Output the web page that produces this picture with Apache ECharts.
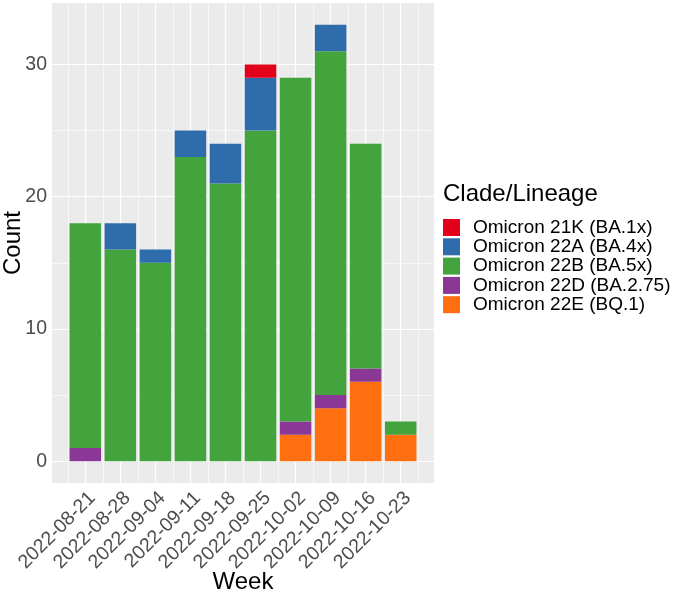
<!DOCTYPE html>
<html>
<head>
<meta charset="utf-8">
<script src="https://cdn.jsdelivr.net/npm/echarts@6/dist/echarts.min.js"></script>
<style>
html,body{margin:0;padding:0;background:#fff;}
#chart{width:680px;height:596px;}
</style>
</head>
<body>
<div id="chart"></div>
<script>
var weeks = ['2022-08-21','2022-08-28','2022-09-04','2022-09-11','2022-09-18','2022-09-25','2022-10-02','2022-10-09','2022-10-16','2022-10-23'];
var o21K = [0,0,0,0,0,1,0,0,0,0];
var o22A = [0,2,1,2,3,4,0,2,0,0];
var o22B = [17,16,15,23,21,25,26,26,17,1];
var o22D = [1,0,0,0,0,0,1,1,1,0];
var o22E = [0,0,0,0,0,0,2,4,6,2];
var yTicks = [0,10,20,30];
var yMinor = [5,15,25];
var legendNames = ['Omicron 21K (BA.1x)','Omicron 22A (BA.4x)','Omicron 22B (BA.5x)','Omicron 22D (BA.2.75)','Omicron 22E (BQ.1)'];

var colors = {
  'Omicron 21K (BA.1x)':'#E2001A',
  'Omicron 22A (BA.4x)':'#2F6CAC',
  'Omicron 22B (BA.5x)':'#43A43D',
  'Omicron 22D (BA.2.75)':'#8A3795',
  'Omicron 22E (BQ.1)':'#FF6F0F'
};
var seriesVals = {
  'Omicron 22E (BQ.1)':o22E,
  'Omicron 22D (BA.2.75)':o22D,
  'Omicron 22B (BA.5x)':o22B,
  'Omicron 22A (BA.4x)':o22A,
  'Omicron 21K (BA.1x)':o21K
};
var stackOrder = ['Omicron 22E (BQ.1)','Omicron 22D (BA.2.75)','Omicron 22B (BA.5x)','Omicron 22A (BA.4x)','Omicron 21K (BA.1x)'];
var idx = weeks.map(function(w,i){return i;});
var FONT = 'Liberation Sans, Arial, sans-serif';

var gridLines = [];
yTicks.forEach(function(v){gridLines.push({yAxis:v,lineStyle:{width:1.2}});});
yMinor.forEach(function(v){gridLines.push({yAxis:v,lineStyle:{width:0.6}});});
idx.forEach(function(i){gridLines.push({xAxis:i,lineStyle:{width:1.2}});});
idx.concat([10]).forEach(function(i){gridLines.push({xAxis:i-0.5,lineStyle:{width:0.6}});});

var series = [{
  type:'line', name:'grid', data:[[0,0]], showSymbol:false, silent:true, z:1,
  lineStyle:{opacity:0}, animation:false,
  markLine:{silent:true, symbol:'none', z:1, animation:false, label:{show:false},
    lineStyle:{color:'#FFFFFF', type:'solid'}, data:gridLines}
}];
stackOrder.forEach(function(name){
  series.push({
    type:'bar', name:name, stack:'total', barWidth:31.5, z:2,
    encode:{x:1, y:0},
    itemStyle:{color:colors[name]},
    data: seriesVals[name].map(function(v,i){return [v,i];})
  });
});

var chart = echarts.init(document.getElementById('chart'));
chart.setOption({
  animation:false,
  textStyle:{fontFamily:FONT},
  title:{text:'Clade/Lineage', left:443, top:182, padding:0,
    textStyle:{fontFamily:FONT, fontSize:24, fontWeight:'normal', color:'#000'}},
  legend:{orient:'vertical', left:443, top:218, padding:0, itemWidth:17, itemHeight:17, itemGap:0.3,
    icon:'rect', data:legendNames, selectedMode:false,
    textStyle:{fontFamily:FONT, fontSize:19, color:'#000', lineHeight:17, padding:[0,0,0,8]}},
  grid:{left:52, top:3, width:382, height:480, show:true, backgroundColor:'#EBEBEB', borderWidth:0,
    containLabel:false, outerBoundsMode:'none'},
  xAxis:{type:'value', min:-0.95, max:9.95,
    name:'Week', nameLocation:'middle', nameGap:87, nameMoveOverlap:false,
    nameTextStyle:{fontFamily:FONT, fontSize:24, color:'#000'},
    axisLine:{show:false}, splitLine:{show:false},
    axisTick:{show:true, customValues:idx, length:3, lineStyle:{color:'#333333', width:1}},
    axisLabel:{customValues:idx, rotate:45, margin:5, fontSize:19.5, color:'#4D4D4D',
      verticalAlign:'top', fontFamily:FONT,
      formatter:function(v){return weeks[Math.round(v)];}}
  },
  yAxis:{type:'value', min:-1.65, max:34.65,
    name:'Count', nameLocation:'middle', nameGap:27, nameRotate:90, nameMoveOverlap:false,
    nameTextStyle:{fontFamily:FONT, fontSize:24, color:'#000'},
    axisLine:{show:false}, splitLine:{show:false},
    axisTick:{show:true, customValues:yTicks, length:3, lineStyle:{color:'#333333', width:1}},
    axisLabel:{customValues:yTicks, margin:5, fontSize:19.5, color:'#4D4D4D',
      fontFamily:FONT}
  },
  series:series
});
</script>
</body>
</html>
